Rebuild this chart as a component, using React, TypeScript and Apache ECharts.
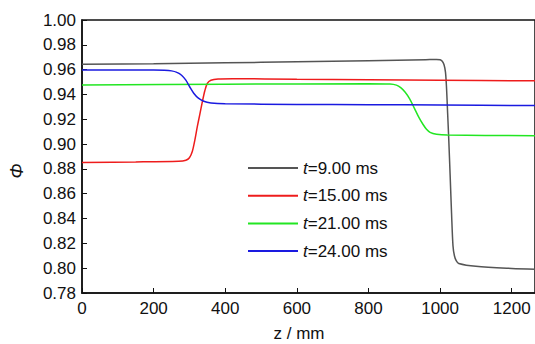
import React, { useEffect, useRef } from "react";
import * as echarts from "echarts";

const seriesNames = ["t=9.00 ms", "t=15.00 ms", "t=21.00 ms", "t=24.00 ms"];
const seriesColors = ["#555555", "#ee1c1c", "#22e622", "#1a1ae0"];

const t9: number[][] = [
  [0, 0.9643], [200, 0.9648], [400, 0.9655], [600, 0.9663], [800, 0.9672], [960, 0.968],
  [990, 0.9682], [1000, 0.9679], [1006, 0.9668], [1011, 0.964], [1015, 0.958], [1018, 0.945],
  [1021, 0.925], [1024, 0.905], [1028, 0.875], [1032, 0.844], [1036, 0.818], [1040, 0.810],
  [1045, 0.806], [1052, 0.8038], [1100, 0.8015], [1200, 0.7998], [1265, 0.7992],
];
const t15: number[][] = [
  [0, 0.8852], [150, 0.8856], [270, 0.8862], [290, 0.887], [300, 0.889], [308, 0.894],
  [315, 0.903], [322, 0.914], [329, 0.924], [336, 0.934], [343, 0.943], [350, 0.949],
  [360, 0.9515], [380, 0.9525], [420, 0.9527], [600, 0.9523], [800, 0.9519], [1000, 0.9515],
  [1265, 0.951],
];
const t21: number[][] = [
  [0, 0.9476], [400, 0.9482], [800, 0.9487], [860, 0.9484], [878, 0.9475], [890, 0.9455],
  [902, 0.942], [915, 0.9365], [928, 0.929], [940, 0.922], [952, 0.916], [962, 0.912],
  [972, 0.9095], [990, 0.908], [1020, 0.9073], [1265, 0.9067],
];
const t24: number[][] = [
  [0, 0.9597], [200, 0.9597], [230, 0.9595], [250, 0.959], [265, 0.9578], [278, 0.9555],
  [290, 0.9515], [301, 0.946], [312, 0.941], [325, 0.937], [340, 0.9345], [360, 0.9332],
  [400, 0.9325], [600, 0.932], [800, 0.9318], [1000, 0.9315], [1265, 0.931],
];
const allSeries = [t9, t15, t21, t24];

const xMin = 0;
const xMax = 1265;
const xInterval = 200;
const yMin = 0.78;
const yMax = 1.0;
const yInterval = 0.02;

const FONT = "'Liberation Sans', Arial, sans-serif";
const FS = 17;

export default function App() {
  const ref = useRef<HTMLDivElement>(null);
  useEffect(() => {
    document.body.style.margin = "0";
    if (!ref.current) return;
    const chart = echarts.init(ref.current, null, { renderer: "svg" });
    chart.setOption({
      animation: false,
      backgroundColor: "#ffffff",
      grid: {
        left: 82,
        right: 0,
        top: 20,
        bottom: 51,
        show: true,
        borderColor: "#111",
        borderWidth: 1.5,
      },
      legend: {
        orient: "vertical",
        left: 243,
        top: 154,
        itemWidth: 50,
        itemHeight: 2,
        itemGap: 9.7,
        icon: "rect",
        data: seriesNames,
        formatter: (name: string) => `{i|t}{n|${name.slice(1)}}`,
        textStyle: {
          fontFamily: FONT,
          fontSize: FS,
          color: "#111",
          lineHeight: 18,
          rich: {
            i: { fontStyle: "italic", fontSize: FS, fontFamily: FONT, color: "#111" },
            n: { fontSize: FS, fontFamily: FONT, color: "#111" },
          },
        },
      },
      xAxis: {
        type: "value",
        min: xMin,
        max: xMax,
        interval: xInterval,
        axisLine: { show: true, lineStyle: { color: "#111", width: 1.5 } },
        axisTick: { show: true, inside: true, length: 5, lineStyle: { color: "#111" } },
        splitLine: { show: false },
        axisLabel: {
          margin: 7,
          fontFamily: FONT,
          fontSize: FS,
          color: "#111",
          showMaxLabel: false,
          formatter: (v: number) => (v % 200 === 0 ? String(v) : ""),
        },
      },
      yAxis: {
        type: "value",
        min: yMin,
        max: yMax,
        interval: yInterval,
        axisLine: { show: true, lineStyle: { color: "#111", width: 1.5 } },
        axisTick: { show: true, inside: true, length: 5, lineStyle: { color: "#111" } },
        splitLine: { show: false },
        axisLabel: {
          margin: 6,
          fontFamily: FONT,
          fontSize: FS,
          color: "#111",
          formatter: (v: number) => v.toFixed(2),
        },
      },
      graphic: [
        {
          type: "text",
          x: 299,
          y: 333,
          style: {
            text: "z / mm",
            fontFamily: FONT,
            fontSize: FS,
            fill: "#111",
            align: "center",
            verticalAlign: "middle",
          },
        },
        {
          type: "text",
          x: 17,
          y: 171,
          rotation: Math.PI / 2,
          style: {
            text: "Φ",
            fontFamily: FONT,
            fontSize: 18,
            fontStyle: "italic",
            fill: "#111",
            align: "center",
            verticalAlign: "middle",
          },
        },
      ],
      series: allSeries.map((d, i) => ({
        name: seriesNames[i],
        type: "line",
        data: d,
        symbol: "none",
        smooth: 0.3,
        color: seriesColors[i],
        lineStyle: { color: seriesColors[i], width: 1.5 },
        itemStyle: { color: seriesColors[i] },
      })),
    });
    return () => chart.dispose();
  }, []);
  return <div ref={ref} style={{ width: 535, height: 344 }} />;
}
